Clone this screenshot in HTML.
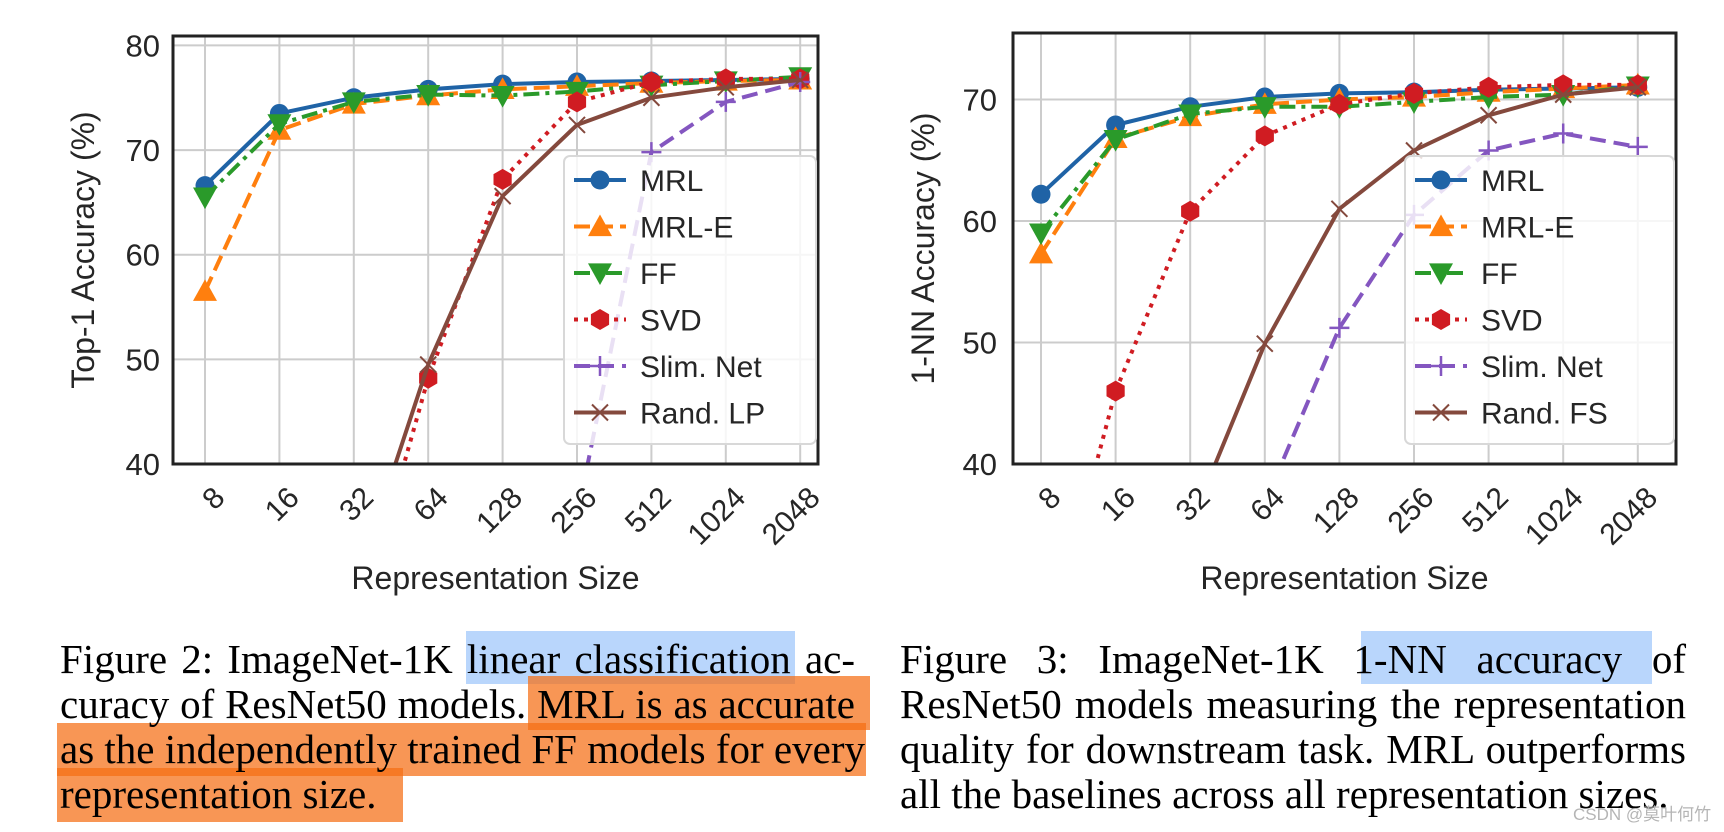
<!DOCTYPE html>
<html><head><meta charset="utf-8">
<style>
html,body{margin:0;padding:0;background:#fff;width:1724px;height:832px;overflow:hidden;}
body{position:relative;}
svg{position:absolute;left:0;top:0;}
.cap{position:absolute;font-family:"Liberation Serif",serif;font-size:41px;line-height:45px;color:#000;white-space:nowrap;}
.ln{display:block;text-align:justify;text-align-last:justify;height:45px;}
.ln.last{text-align:left;text-align-last:left;}
.hl{position:absolute;}
</style></head><body>
<div class="hl" style="left:466px;top:631px;width:329px;height:53px;background:#b9d6fc"></div>
<div class="hl" style="left:1361px;top:631px;width:291px;height:53px;background:#b9d6fc"></div>
<div class="hl" style="left:528px;top:676px;width:342px;height:54px;background:rgba(245,110,20,0.72)"></div>
<div class="hl" style="left:57px;top:723px;width:809px;height:53px;background:rgba(245,110,20,0.72)"></div>
<div class="hl" style="left:57px;top:768px;width:346px;height:54px;background:rgba(245,110,20,0.72)"></div>

<div class="cap" style="left:60px;top:637px;width:795px;height:180px;">
<span class="ln">Figure 2: ImageNet-1K linear classification ac-</span>
<span class="ln">curacy of ResNet50 models. MRL is as accurate</span>
<span class="ln">as the independently trained FF models for every</span>
<span class="ln last">representation size.</span>
</div>
<div class="cap" style="left:900px;top:637px;width:786px;height:180px;">
<span class="ln">Figure 3: ImageNet-1K 1-NN accuracy of</span>
<span class="ln">ResNet50 models measuring the representation</span>
<span class="ln">quality for downstream task. MRL outperforms</span>
<span class="ln last">all the baselines across all representation sizes.</span>
</div>
<div style="position:absolute;left:1573px;top:805px;font-family:'Liberation Sans','Noto Sans CJK SC',sans-serif;font-size:17px;line-height:20px;color:#b5b5b5;">CSDN @莫叶何竹</div>

<svg id="svg" width="1724" height="832" xmlns="http://www.w3.org/2000/svg"></svg>

<script>
const categories = ["8","16","32","64","128","256","512","1024","2048"];
const c1MRL   = [66.6,73.5,75.0,75.8,76.3,76.5,76.6,76.7,76.8];
const c1MRLE  = [56.5,71.9,74.4,75.2,75.8,76.1,76.4,76.6,76.7];
const c1FF    = [65.5,72.5,74.6,75.3,75.2,75.6,76.2,76.6,77.0];
const c1SVD   = [15,20,23,48.2,67.2,74.6,76.5,76.8,76.8];
const c1Slim  = [1,1,2,5,20,35,69.8,74.6,76.5];
const c1Rand  = [5,10,28,49.5,65.6,72.4,75.0,76.0,76.7];
const c1Ticks = [40,50,60,70,80];
const c2MRL   = [62.2,67.9,69.4,70.2,70.5,70.6,70.8,70.9,71.0];
const c2MRLE  = [57.3,66.8,68.6,69.6,70.0,70.2,70.6,70.9,71.2];
const c2FF    = [59.0,66.7,68.8,69.4,69.4,69.8,70.2,70.4,71.1];
const c2SVD   = [23,46.0,60.8,67.0,69.6,70.5,71.0,71.2,71.2];
const c2Slim  = [5,10,20,36.8,51.2,60.5,65.8,67.2,66.1];
const c2Rand  = [5,20,35,49.9,61.0,65.8,68.7,70.4,71.0];
const c2Ticks = [40,50,60,70];
const legend1 = ["MRL","MRL-E","FF","SVD","Slim. Net","Rand. LP"];
const legend2 = ["MRL","MRL-E","FF","SVD","Slim. Net","Rand. FS"];

const NS="http://www.w3.org/2000/svg";
const svg=document.getElementById('svg');
function mk(tag,attrs,parent){const e=document.createElementNS(NS,tag);for(const k in attrs)e.setAttribute(k,attrs[k]);(parent||svg).appendChild(e);return e;}

const styles=[
 {c:"#1f63a6",dash:"",m:"circle"},
 {c:"#ff7f0e",dash:"16,7",m:"tri"},
 {c:"#2a9a2a",dash:"16,6,4,6",m:"tridown"},
 {c:"#d01c22",dash:"4,6",m:"hex"},
 {c:"#8456c0",dash:"16,8",m:"plus"},
 {c:"#84493d",dash:"",m:"x"}
];

function marker(g,type,x,y,c,scale){
 const s=scale||1;
 if(type==="circle"){mk('circle',{cx:x,cy:y,r:9.5*s,fill:c},g);}
 else if(type==="tri"){const r=12*s;mk('polygon',{points:`${x},${y-r} ${x+r},${y+r*0.8} ${x-r},${y+r*0.8}`,fill:c},g);}
 else if(type==="tridown"){const r=12*s;mk('polygon',{points:`${x},${y+r} ${x+r},${y-r*0.8} ${x-r},${y-r*0.8}`,fill:c},g);}
 else if(type==="hex"){const r=10.5*s;let p=[];for(let k=0;k<6;k++){const a=Math.PI/6+k*Math.PI/3;p.push((x+r*Math.cos(a)).toFixed(1)+","+(y+r*Math.sin(a)).toFixed(1));}mk('polygon',{points:p.join(" "),fill:c},g);}
 else if(type==="plus"){const r=10*s;mk('path',{d:`M${x-r},${y}H${x+r}M${x},${y-r}V${y+r}`,stroke:c,'stroke-width':2.5,fill:'none'},g);}
 else if(type==="x"){const r=8*s;mk('path',{d:`M${x-r},${y-r}L${x+r},${y+r}M${x-r},${y+r}L${x+r},${y-r}`,stroke:c,'stroke-width':2,fill:'none'},g);}
}

function chart(o){
 const {id,L,R,T,B,x0,dx,ymin,ymax,ticks,series,names,ytitle,ytx,ylx,leg}=o;
 const X=i=>x0+i*dx;
 const Y=v=>B-(v-ymin)/(ymax-ymin)*(B-T);
 const g=mk('g',{});
 
 
 mk('rect',{x:L,y:T,width:R-L,height:B-T,fill:'#fff'},g);
 const grid=mk('g',{stroke:'#cccccc','stroke-width':2},g);
 
 
 categories.forEach((c,i)=>mk('line',{x1:X(i),x2:X(i),y1:T,y2:B},grid));
 ticks.forEach(t=>mk('line',{x1:L,x2:R,y1:Y(t),y2:Y(t)},grid));
 const clip=mk('clipPath',{id:id+'-clip'},g);
 mk('rect',{x:L,y:T,width:R-L,height:B-T},clip);
 const plot=mk('g',{'clip-path':`url(#${id}-clip)`},g);
 series.forEach((vals,si)=>{
  const st=styles[si];
  const sg=mk('g',{},plot);
  
  
  const d=vals.map((v,i)=>(i?'L':'M')+X(i).toFixed(1)+','+Y(v).toFixed(1)).join('');
  const a={d:d,fill:'none',stroke:st.c,'stroke-width':4,'stroke-linejoin':'round'};
  if(st.dash)a['stroke-dasharray']=st.dash;
  mk('path',a,sg);
  vals.forEach((v,i)=>{const yy=Y(v);if(yy>=T-15&&yy<=B+15)marker(sg,st.m,X(i),yy,st.c);});
 });
 mk('rect',{x:L,y:T,width:R-L,height:B-T,fill:'none',stroke:'#222','stroke-width':3},g);
 ticks.forEach(t=>{const e=mk('text',{x:ylx,y:Y(t)+11,'text-anchor':'end','font-family':'Liberation Sans, sans-serif','font-size':31,fill:'#262626'},g);e.textContent=t;
  
  });
 categories.forEach((c,i)=>{const x=X(i)+8,y=B+22;const e=mk('text',{x:x,y:y,'text-anchor':'end','font-family':'Liberation Sans, sans-serif','font-size':30,fill:'#262626',transform:`rotate(-45 ${x} ${y}) translate(0 19)`},g);e.textContent=c;
  
  });
 const xt=mk('text',{x:(L+R)/2,y:589,'text-anchor':'middle','font-family':'Liberation Sans, sans-serif','font-size':32,fill:'#262626'},g);
 xt.textContent='Representation Size';
 
 
 const ym=(T+B)/2;
 const yt=mk('text',{x:ytx,y:ym,'text-anchor':'middle','font-family':'Liberation Sans, sans-serif','font-size':32,fill:'#262626',transform:`rotate(-90 ${ytx} ${ym})`},g);
 yt.textContent=ytitle;
 
 
 const lg=mk('g',{},g);
 
 
 mk('rect',{x:leg.x,y:leg.y,width:leg.w,height:leg.h,rx:6,fill:'rgba(255,255,255,0.82)',stroke:'#d8d8d8','stroke-width':2},lg);
 names.forEach((n,i)=>{
  const st=styles[i];const yy=leg.y+24+i*46.5;
  const eg=mk('g',{},lg);
  
  
  const a={x1:leg.x+10,x2:leg.x+62,y1:yy,y2:yy,stroke:st.c,'stroke-width':4};
  if(st.dash)a['stroke-dasharray']=st.dash;
  mk('line',a,eg);
  marker(eg,st.m,leg.x+36,yy,st.c);
  const t=mk('text',{x:leg.x+76,y:yy+11,'font-family':'Liberation Sans, sans-serif','font-size':30,fill:'#262626'},eg);
  t.textContent=n;
 });
}

chart({id:'chart-top1',L:173,R:818,T:36,B:464,x0:205,dx:74.4,ymin:40,ymax:80.9,ticks:c1Ticks,
 series:[c1MRL,c1MRLE,c1FF,c1SVD,c1Slim,c1Rand],names:legend1,ytitle:'Top-1 Accuracy (%)',ytx:94,ylx:160,
 leg:{x:564,y:156,w:252,h:288}});
chart({id:'chart-1nn',L:1013,R:1676,T:33,B:464,x0:1041,dx:74.6,ymin:40,ymax:75.47,ticks:c2Ticks,
 series:[c2MRL,c2MRLE,c2FF,c2SVD,c2Slim,c2Rand],names:legend2,ytitle:'1-NN Accuracy (%)',ytx:934,ylx:997,
 leg:{x:1405,y:156,w:269,h:288}});
</script>
</body></html>
